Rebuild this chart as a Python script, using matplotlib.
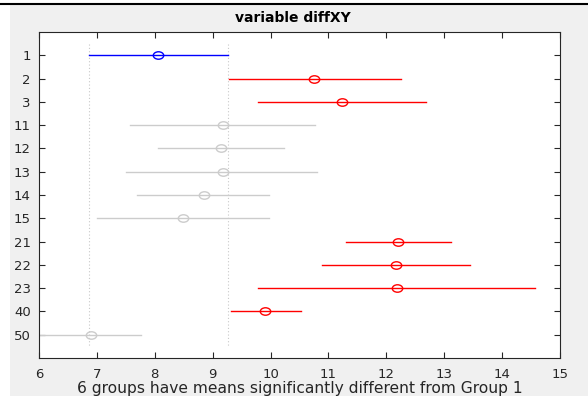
import matplotlib
matplotlib.use("Agg")
from matplotlib import pyplot as plt
from matplotlib.patches import Rectangle
from matplotlib.lines import Line2D
from matplotlib.path import Path
from matplotlib.transforms import Affine2D

plt.rcParams['font.family'] = ['DejaVu Sans']

# group labels, lower bound, mean, upper bound, colour class
groups = ["1", "2", "3", "11", "12", "13", "14", "15", "21", "22", "23", "40", "50"]
lower = [6.87, 9.28, 9.78, 7.58, 8.06, 7.51, 7.70, 7.01, 11.30, 10.89, 9.79, 9.32, 5.95]
means = [8.06, 10.75, 11.24, 9.17, 9.14, 9.17, 8.85, 8.49, 12.21, 12.17, 12.19, 9.90, 6.89]
upper = [9.26, 12.26, 12.68, 10.77, 10.23, 10.81, 9.98, 9.98, 13.12, 13.44, 14.57, 10.52, 7.76]
status = ["ref", "sig", "sig", "ns", "ns", "ns", "ns", "ns", "sig", "sig", "sig", "sig", "ns"]

colors = {"ref": "#0000ff", "sig": "#ff0000", "ns": "#cccccc"}

# the capture is stretched sideways, so the circles come out as flat ellipses
oval = Affine2D().scale(1.4, 1.0).transform_path(Path.unit_circle())

fig = plt.figure(figsize=(5.88, 3.96), dpi=100, facecolor="white")

# grey figure panel and top rule like the MATLAB window capture
fig.add_artist(Rectangle((10 / 588, 0), 1, 1 - 5 / 396, transform=fig.transFigure,
                         facecolor="#f0f0f0", edgecolor="none", zorder=-10))
fig.add_artist(Line2D([0, 1], [1 - 4 / 396] * 2, transform=fig.transFigure,
                      color="black", lw=1.5, zorder=-5))

ax = fig.add_axes([39 / 588, 1 - 358 / 396, 521 / 588, 326 / 396])
ax.set_facecolor("white")
ax.set_zorder(5)

ypos = list(range(1, len(groups) + 1))

# dotted reference lines at the interval of group 1
for xv in (lower[0], upper[0]):
    ax.plot([xv, xv], [0.5, 13.5], color="#c8c8c8", lw=0.8, ls=(0, (1, 2)), zorder=1)

for y, lo, m, hi, s in zip(ypos, lower, means, upper, status):
    c = colors[s]
    ax.plot([lo, hi], [y, y], color=c, lw=1.0, zorder=2)
    ax.plot(m, y, marker=oval, mfc="none", mec=c, ms=7.5, mew=1.0, zorder=3)

ax.set_xlim(6, 15)
ax.set_ylim(14, 0)
ax.set_xticks(range(6, 16))
ax.set_yticks(ypos)
ax.set_yticklabels(groups)
ax.tick_params(direction="in", top=True, right=True, length=4, width=0.8,
               labelsize=9.5, colors="#262626", labelcolor="#262626")
ax.tick_params(axis="x", pad=7)
ax.tick_params(axis="y", pad=6)
for sp in ax.spines.values():
    sp.set_color("#262626")
    sp.set_linewidth(0.8)

ax.set_title("variable diffXY", fontsize=10, fontweight="bold", pad=7, x=0.487)
ax.set_xlabel("6 groups have means significantly different from Group 1",
              fontsize=11.2, labelpad=0, color="#262626")

fig.savefig("out.png", dpi=100, facecolor=fig.get_facecolor())
